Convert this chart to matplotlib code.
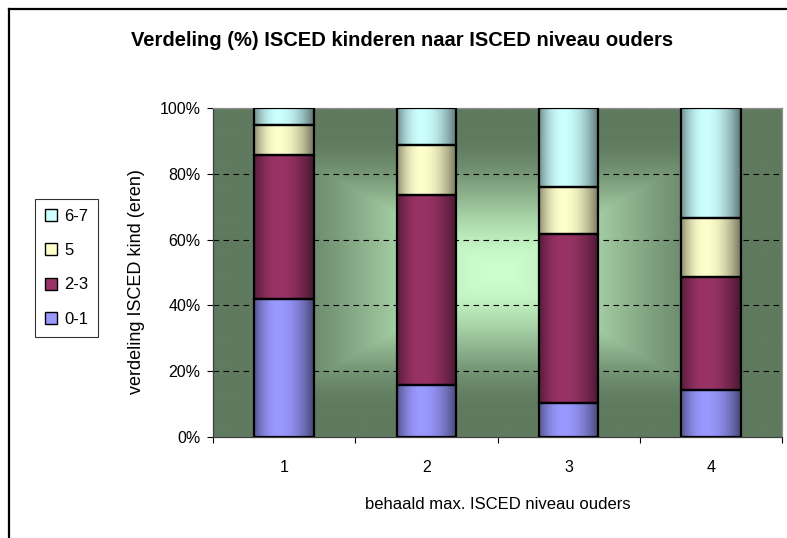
import numpy as np
import matplotlib
matplotlib.use("Agg")
import matplotlib.pyplot as plt
from matplotlib.lines import Line2D
from matplotlib.colors import to_rgb

plt.rcParams['font.family'] = ['Liberation Sans', 'DejaVu Sans']

# --- data (percentages per ISCED level of parents) ---
categories = ['1', '2', '3', '4']
series = ['0-1', '2-3', '5', '6-7']
pct_01 = [42.0, 15.8, 10.5, 14.2]
pct_23 = [43.5, 57.8, 51.2, 34.4]
pct_5 = [9.3, 15.2, 14.1, 17.9]
pct_67 = [5.2, 11.2, 24.2, 33.5]
colors = ['#9999FF', '#993366', '#FFFFCC', '#CCFFFF']

values = np.array([pct_01, pct_23, pct_5, pct_67])
values = values / values.sum(axis=0)  # 100% stacked

W, H = 787, 538
fig = plt.figure(figsize=(W / 100, H / 100), dpi=100)
fig.patch.set_facecolor('white')

# plot area in pixels
left, right, top, bottom = 213, 782, 107.7, 437.3
ax = fig.add_axes([left / W, 1 - bottom / H, (right - left) / W, (bottom - top) / H])

# background: rectangular gradient from center
light = np.array(to_rgb('#CCFFCC'))
dark = np.array(to_rgb('#5F7A5F'))
u = np.linspace(0, 1, 300)
uu, vv = np.meshgrid(u, u)
t = np.maximum(np.abs(uu - 0.5), np.abs(vv - 0.5)) * 2
t = np.clip(t / 0.85, 0, 1)
t = t * t * (3 - 2 * t)
bg = light[None, None, :] * (1 - t[..., None]) + dark[None, None, :] * t[..., None]
ax.imshow(bg, extent=[0, 1, 0, 1], transform=ax.transAxes, aspect='auto',
          zorder=0, interpolation='bilinear')

# horizontal shading profile for the bars
s = np.linspace(0, 1, 200)
prof = np.where(s < 0.4, 1 - 0.45 * ((0.4 - s) / 0.4) ** 2,
                1 - 0.55 * ((s - 0.4) / 0.6) ** 2)

x = np.arange(len(categories))
bw = 0.42
bottoms = np.zeros(len(categories))
for vals, col in zip(values, colors):
    bars = ax.bar(x, vals, bw, bottom=bottoms, color=col, edgecolor='black',
                  linewidth=1.6, zorder=4)
    rgb = np.array(to_rgb(col))
    grad = (rgb[None, :] * prof[:, None])[None, :, :]
    for p in bars:
        ax.imshow(grad, extent=[p.get_x(), p.get_x() + p.get_width(),
                                p.get_y(), p.get_y() + p.get_height()],
                  aspect='auto', zorder=3.5, interpolation='bilinear')
        p.set_facecolor('none')
    bottoms += vals

ax.set_xlim(-0.5, len(categories) - 0.5)
ax.set_ylim(0, 1)

yt = np.linspace(0, 1, 6)
for yv in yt[1:-1]:
    ax.axhline(yv, color='black', linewidth=0.8, linestyle=(0, (5, 4)), zorder=2)

ax.set_yticks(yt)
ax.set_yticklabels([f'{int(round(v * 100))}%' for v in yt], fontsize=11.5)
ax.set_xticks(x)
ax.set_xticklabels(categories, fontsize=11.5)
ax.set_xticks(np.arange(len(categories) + 1) - 0.5, minor=True)
ax.tick_params(axis='x', which='major', length=0, pad=16)
ax.tick_params(axis='x', which='minor', length=4, direction='out', width=0.8)
ax.tick_params(axis='y', length=4, direction='out', width=0.8, pad=5)

for sp in ['left', 'bottom']:
    ax.spines[sp].set_color('#404040')
    ax.spines[sp].set_linewidth(0.9)
for sp in ['top', 'right']:
    ax.spines[sp].set_color('#909090')
    ax.spines[sp].set_linewidth(0.9)

ax.set_ylabel('verdeling ISCED kind (eren)', fontsize=13)
ax.yaxis.set_label_coords((145 - left) / (right - left), 0.473)
ax.set_xlabel('behaald max. ISCED niveau ouders', fontsize=12)
ax.xaxis.set_label_coords(0.5, -0.18)

fig.text(402 / W, 1 - 41 / H, 'Verdeling (%) ISCED kinderen naar ISCED niveau ouders',
         fontsize=14.5, fontweight='bold', ha='center', va='center')

# legend
handles = [Line2D([], [], linestyle='none', marker='s', markersize=8,
                  markerfacecolor=c, markeredgecolor='black', markeredgewidth=1.0)
           for c in colors]
leg = fig.legend(handles[::-1], series[::-1], loc='upper left',
                 bbox_to_anchor=(35 / W, 1 - 199 / H), fontsize=12,
                 frameon=True, fancybox=False, edgecolor='black',
                 handlelength=0.7, handletextpad=0.45, labelspacing=1.15,
                 borderpad=0.6, borderaxespad=0)
leg.get_frame().set_linewidth(0.8)

# chart-area border (only left and top are visible)
fig.add_artist(Line2D([9 / W, 9 / W], [0, 1 - 9 / H], color='black', linewidth=1.6,
                      transform=fig.transFigure))
fig.add_artist(Line2D([9 / W, 1], [1 - 9 / H, 1 - 9 / H], color='black', linewidth=1.6,
                      transform=fig.transFigure))

fig.savefig('out.png', dpi=100)
